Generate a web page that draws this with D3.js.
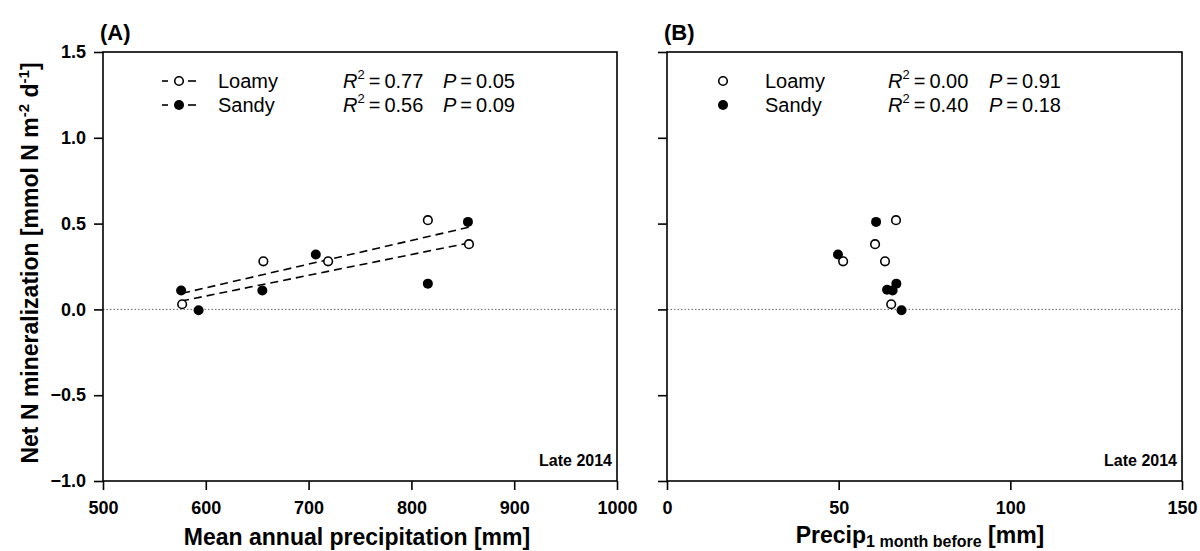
<!DOCTYPE html>
<html>
<head>
<meta charset="utf-8">
<script src="https://cdn.jsdelivr.net/npm/d3@7"></script>
<style>
  body { margin: 0; background: #fff; }
  svg { font-family: "Liberation Sans", Arial, sans-serif; }
</style>
</head>
<body>
<div id="chart"></div>
<script>
// values
var mapLoamy = [577, 656, 719, 816, 856];
var mapSandy = [576, 593, 655, 707, 816, 855];
var precipLoamy = [51.3, 60.6, 63.5, 66.7, 65.3];
var precipSandy = [49.8, 60.9, 64.1, 65.7, 66.8, 68.3];
var netLoamy = [0.03, 0.28, 0.28, 0.52, 0.38];
var netSandy = [0.11, -0.005, 0.11, 0.32, 0.15, 0.51];
var netLoamyB = [0.28, 0.38, 0.28, 0.52, 0.03];
var netSandyB = [0.32, 0.51, 0.115, 0.11, 0.15, -0.005];

var yTicks = [-1.0, -0.5, 0.0, 0.5, 1.0, 1.5];
var xTicksA = [500, 600, 700, 800, 900, 1000];
var xTicksB = [0, 50, 100, 150];

var statsA = [["Loamy", "0.77", "0.05"], ["Sandy", "0.56", "0.09"]];
var statsB = [["Loamy", "0.00", "0.91"], ["Sandy", "0.40", "0.18"]];

var width = 1200, height = 551,
    plotTop = 52, plotBottom = 481, radius = 5;

var svg = d3.select("#chart").append("svg")
  .attr("width", width)
  .attr("height", height);

var y = d3.scaleLinear().domain([-1, 1.5]).range([plotBottom, plotTop]);

function zip(xs, ys) {
  return xs.map(function(v, i) { return { x: v, y: ys[i] }; });
}

// least squares fit, drawn over the range of the data
function fit(pts) {
  var mx = d3.mean(pts, function(d) { return d.x }),
      my = d3.mean(pts, function(d) { return d.y });
  var sxy = d3.sum(pts, function(d) { return (d.x - mx) * (d.y - my) }),
      sxx = d3.sum(pts, function(d) { return (d.x - mx) * (d.x - mx) });
  var b = sxy / sxx, a = my - b * mx;
  var ext = d3.extent(pts, function(d) { return d.x });
  return ext.map(function(v) { return { x: v, y: a + b * v }; });
}

function panel(opt) {
  var x = d3.scaleLinear().domain(opt.domain).range([opt.left, opt.right]);
  var g = svg.append("g");

  // zero line
  g.append("line")
    .attr("x1", opt.left).attr("x2", opt.right)
    .attr("y1", y(0)).attr("y2", y(0))
    .attr("stroke", "#666").attr("stroke-width", 1)
    .attr("stroke-dasharray", "1.5,2");

  // regression lines
  if (opt.lines) {
    [opt.loamy, opt.sandy].forEach(function(pts) {
      var f = fit(pts);
      g.append("line")
        .attr("x1", x(f[0].x)).attr("y1", y(f[0].y))
        .attr("x2", x(f[1].x)).attr("y2", y(f[1].y))
        .attr("stroke", "#000").attr("stroke-width", 1.6)
        .attr("stroke-dasharray", "8,5");
    });
  }

  // points
  g.selectAll(".loamy").data(opt.loamy).enter().append("circle")
    .attr("cx", function(d) { return x(d.x) })
    .attr("cy", function(d) { return y(d.y) })
    .attr("r", radius - 0.7)
    .attr("fill", "#fff").attr("stroke", "#000").attr("stroke-width", 1.6);
  g.selectAll(".sandy").data(opt.sandy).enter().append("circle")
    .attr("cx", function(d) { return x(d.x) })
    .attr("cy", function(d) { return y(d.y) })
    .attr("r", radius)
    .attr("fill", "#000");

  // frame
  g.append("rect")
    .attr("x", opt.left).attr("y", plotTop)
    .attr("width", opt.right - opt.left).attr("height", plotBottom - plotTop)
    .attr("fill", "none").attr("stroke", "#000").attr("stroke-width", 1.6);

  // axes
  var ax = g.append("g")
    .attr("transform", "translate(0," + plotBottom + ")")
    .call(d3.axisBottom(x).tickValues(opt.ticks).tickSize(9).tickSizeOuter(0)
      .tickPadding(11).tickFormat(d3.format("d")));
  var ay = g.append("g")
    .attr("transform", "translate(" + opt.left + ",0)")
    .call(d3.axisLeft(y).tickValues(yTicks).tickSize(9).tickSizeOuter(0).tickPadding(8)
      .tickFormat(opt.yLabels ? d3.format(".1f") : ""));
  [ax, ay].forEach(function(a) {
    a.select(".domain").remove();
    a.selectAll("line").attr("stroke-width", 1.6);
    a.selectAll("text").attr("font-size", 18).attr("font-weight", "bold")
      .attr("font-family", "Liberation Sans, Arial, sans-serif").attr("fill", "#000");
  });

  // panel letter
  g.append("text").attr("x", opt.left - 3).attr("y", 40)
    .attr("font-size", 22).attr("font-weight", "bold").text(opt.letter);

  // Late 2014
  g.append("text").attr("x", opt.right - 5).attr("y", 466)
    .attr("text-anchor", "end").attr("font-size", 16).attr("font-weight", "bold")
    .text("Late 2014");

  // legend
  opt.stats.forEach(function(s, i) {
    var cy = 81 + i * 24;
    var sx = opt.left + opt.symX;
    if (opt.lines) {
      g.append("line").attr("x1", sx - 17).attr("x2", sx - 11)
        .attr("y1", cy).attr("y2", cy).attr("stroke", "#000").attr("stroke-width", 1.6);
      g.append("line").attr("x1", sx + 9).attr("x2", sx + 17)
        .attr("y1", cy).attr("y2", cy).attr("stroke", "#000").attr("stroke-width", 1.6);
    }
    g.append("circle").attr("cx", sx).attr("cy", cy)
      .attr("r", i === 0 ? radius - 0.7 : radius)
      .attr("fill", i === 0 ? "#fff" : "#000")
      .attr("stroke", i === 0 ? "#000" : "none").attr("stroke-width", 1.6);
    g.append("text").attr("x", opt.left + opt.nameX).attr("y", cy + 7)
      .attr("font-size", 20).text(s[0]);
    var t = g.append("text").attr("x", opt.left + opt.rX).attr("y", cy + 7)
      .attr("font-size", 20);
    t.append("tspan").attr("font-style", "italic").text("R");
    t.append("tspan").attr("font-size", 13).attr("dy", -9).text("2");
    t.append("tspan").attr("dy", 9).text("\u2009=\u2009" + s[1]);
    var p = g.append("text").attr("x", opt.left + opt.pX).attr("y", cy + 7)
      .attr("font-size", 20);
    p.append("tspan").attr("font-style", "italic").text("P");
    p.append("tspan").text("\u2009=\u2009" + s[2]);
  });

  return x;
}

panel({
  left: 103, right: 617, domain: [500, 1000], ticks: xTicksA,
  loamy: zip(mapLoamy, netLoamy), sandy: zip(mapSandy, netSandy),
  lines: true, yLabels: true, letter: "(A)", stats: statsA,
  symX: 76, nameX: 115, rX: 240, pX: 340
});

panel({
  left: 667, right: 1182, domain: [0, 150], ticks: xTicksB,
  loamy: zip(precipLoamy, netLoamyB), sandy: zip(precipSandy, netSandyB),
  lines: false, yLabels: false, letter: "(B)", stats: statsB,
  symX: 56, nameX: 98, rX: 221, pX: 322
});

// axis titles
svg.append("text").attr("x", 357).attr("y", 545)
  .attr("text-anchor", "middle").attr("font-size", 23).attr("font-weight", "bold")
  .text("Mean annual precipitation [mm]");

var tb = svg.append("text").attr("x", 920).attr("y", 543)
  .attr("text-anchor", "middle").attr("font-size", 23).attr("font-weight", "bold");
tb.append("tspan").text("Precip");
tb.append("tspan").attr("font-size", 16).attr("dy", 4).text("1 month before");
tb.append("tspan").attr("dy", -4).text(" [mm]");

var ty = svg.append("text")
  .attr("transform", "translate(38," + 263 + ") rotate(-90)")
  .attr("text-anchor", "middle").attr("font-size", 23).attr("font-weight", "bold");
ty.append("tspan").text("Net N mineralization [mmol N m");
ty.append("tspan").attr("font-size", 15).attr("dy", -9).text("-2");
ty.append("tspan").attr("dy", 9).text(" d");
ty.append("tspan").attr("font-size", 15).attr("dy", -9).text("-1");
ty.append("tspan").attr("dy", 9).text("]");
</script>
</body>
</html>
